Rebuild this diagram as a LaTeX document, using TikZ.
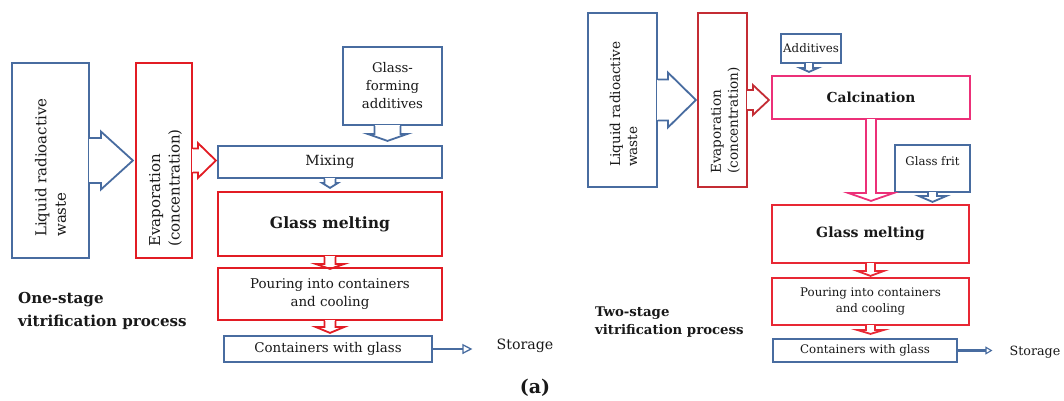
\documentclass[tikz,border=0pt]{standalone}
\usepackage{fontspec}
\setmainfont{DejaVu Serif}
\usetikzlibrary{calc,arrows.meta}
\definecolor{cblue}{RGB}{72,108,160}
\definecolor{cred}{RGB}{226,28,36}
\definecolor{cdred}{RGB}{196,44,52}
\definecolor{credtwo}{RGB}{232,40,52}
\definecolor{cpink}{RGB}{236,48,120}
\definecolor{ctext}{RGB}{25,25,25}
% right-pointing callout arrow attached to a box edge
\newcommand{\calloutR}[6]{%
  \fill[white] ($(#2)+(-1.3,-#3+0.9)$) rectangle ($(#2)+(1.3,#3-0.9)$);
  \draw[#1] ($(#2)+(0,-#3)$) -- ++(#4,0) -- ++(0,#3-#5) -- ($(#2)+(#4+#6,0)$)
    -- ($(#2)+(#4,#5)$) -- ++(0,#3-#5) -- ++(-#4,0);
}
% down-pointing callout arrow attached to a box edge
\newcommand{\calloutD}[6]{%
  \fill[white] ($(#2)+(-#3+0.9,-1.3)$) rectangle ($(#2)+(#3-0.9,1.3)$);
  \draw[#1] ($(#2)+(-#3,0)$) -- ++(0,#4) -- ++(#3-#5,0) -- ($(#2)+(0,#4+#6)$)
    -- ($(#2)+(#5,#4)$) -- ++(#3-#5,0) -- ++(0,-#4);
}
\tikzset{
  bx/.style={draw, line width=1.8pt, fill=white, inner sep=0pt, align=center, text=ctext},
  bl/.style={bx, draw=cblue},
  rd/.style={bx, draw=cred},
  txt/.style={inner sep=0pt, text=ctext, align=center},
  rtxt/.style={txt, rotate=90, anchor=west, align=left},
  cb/.style={draw=cblue, line width=1.8pt},
  cr/.style={draw=cred, line width=1.8pt},
  cdr/.style={draw=cdred, line width=1.8pt},
  crt/.style={draw=credtwo, line width=1.8pt},
  cpk/.style={draw=cpink, line width=1.8pt},
}
\begin{document}
\begin{tikzpicture}[x=1pt,y=-1pt]
\useasboundingbox[fill=white] (0,0) rectangle (1064,400);

% ---------------- left: one-stage ----------------
\node[bl, minimum width=77pt, minimum height=195pt] (lw1) at (50.5,160.5) {};
\node[rd, minimum width=56pt, minimum height=195pt] (ev1) at (164,160.5) {};
\node[bl, minimum width=99pt, minimum height=78pt, font=\fontsize{13.3}{18}\selectfont] (gfa) at (392.5,86) {Glass-\\forming\\additives};
\node[bl, minimum width=224pt, minimum height=32pt, font=\fontsize{14}{16}\selectfont] (mix1) at (330,162) {Mixing};
\node[rd, minimum width=224pt, minimum height=64pt, font=\bfseries\fontsize{15.6}{18}\selectfont] (gm1) at (330,224) {Glass melting};
\node[rd, minimum width=224pt, minimum height=52pt, font=\fontsize{13.4}{17.5}\selectfont] (pour1) at (330,294) {Pouring into containers\\and cooling};
\node[bl, minimum width=208pt, minimum height=26pt, font=\fontsize{13.4}{15}\selectfont] (cont1) at (328,349) {Containers with glass};
\node[txt, font=\fontsize{14.2}{16}\selectfont] (stor1) at (525,346) {Storage};

\node[rtxt, font=\fontsize{15}{19.5}\selectfont] (lw1t) at (50.5,237) {Liquid radioactive\\waste};
\node[rtxt, font=\fontsize{15}{19.5}\selectfont] (ev1t) at (165.5,247) {Evaporation\\(concentration)};

\node[txt, anchor=west, align=left, font=\bfseries\fontsize{15.1}{23}\selectfont] (lab1) at (18,310.5) {One-stage\\vitrification process};
\node[txt, font=\bfseries\fontsize{19}{22}\selectfont] (alab) at (535,388) {(a)};

\calloutR{cb}{lw1.east}{22.5}{11}{29}{32}
\calloutR{cr}{ev1.east}{12}{5}{17.5}{18}
\coordinate (gfaP) at ($(gfa.south)+(-5,0)$);
\calloutD{cb}{gfaP}{13}{8}{20}{7}
\calloutD{cb}{mix1.south}{5.5}{4}{8}{5}
\calloutD{cr}{gm1.south}{5.5}{7}{14.5}{5}
\calloutD{cr}{pour1.south}{5.5}{6}{14.5}{6}

\draw[cblue, line width=2.8pt, shorten >=24pt,
  -{Triangle[open,length=10pt,width=10pt,line width=1.3pt]}]
  (cont1.east) -- (cont1.east -| stor1.west);

% ---------------- right: two-stage ----------------
\node[bl, minimum width=69pt, minimum height=174pt] (lw2) at (622.5,100) {};
\node[bx, draw=cdred, minimum width=49pt, minimum height=174pt] (ev2) at (722.5,100) {};
\node[bl, minimum width=60pt, minimum height=29pt, font=\fontsize{11.8}{13}\selectfont] (add2) at (811,48.5) {Additives};
\node[bx, draw=cpink, minimum width=198pt, minimum height=43pt, font=\bfseries\fontsize{13.8}{16}\selectfont] (calc2) at (871,97.5) {Calcination};
\node[bl, minimum width=75pt, minimum height=47pt] (frit2) at (932.5,168.5) {};
\node[txt, font=\fontsize{11.7}{13}\selectfont] (frit2t) at (932.5,161) {Glass frit};
\node[bx, draw=credtwo, minimum width=197pt, minimum height=58pt, font=\bfseries\fontsize{14.1}{16}\selectfont] (gm2) at (870.5,234) {Glass melting};
\node[bx, draw=credtwo, minimum width=197pt, minimum height=47pt, font=\fontsize{11.8}{15.5}\selectfont] (pour2) at (870.5,301.5) {Pouring into containers\\and cooling};
\node[bl, minimum width=184pt, minimum height=23pt, font=\fontsize{11.8}{13}\selectfont] (cont2) at (865,350.5) {Containers with glass};
\node[txt, font=\fontsize{12.7}{14}\selectfont] (stor2) at (1035,352) {Storage};

\node[rtxt, font=\fontsize{13.6}{17}\selectfont] (lw2t) at (623.5,167) {Liquid radioactive\\waste};
\node[rtxt, font=\fontsize{13.6}{17}\selectfont] (ev2t) at (725.5,174) {Evaporation\\(concentration)};

\node[txt, anchor=west, align=left, font=\bfseries\fontsize{13.3}{18.5}\selectfont] (lab2) at (595,322) {Two-stage\\vitrification process};

\calloutR{cb}{lw2.east}{20.5}{10}{27.5}{28}
\calloutR{cdr}{ev2.east}{10}{5}{15}{16}
\coordinate (add2P) at ($(add2.south)+(-2,0)$);
\calloutD{cb}{add2P}{4}{4}{9}{4}
\calloutD{cpk}{calc2.south}{5}{73}{23}{8}
\calloutD{cb}{frit2.south}{4.5}{3}{14}{6}
\calloutD{crt}{gm2.south}{4.5}{7}{13.5}{5}
\calloutD{crt}{pour2.south}{4.5}{4}{13.5}{4}

\draw[cblue, line width=2.2pt, shorten >=17pt,
  -{Triangle[open,length=7pt,width=8pt,line width=1.1pt]}]
  (cont2.east) -- (cont2.east -| stor2.west);
\end{tikzpicture}
\end{document}
